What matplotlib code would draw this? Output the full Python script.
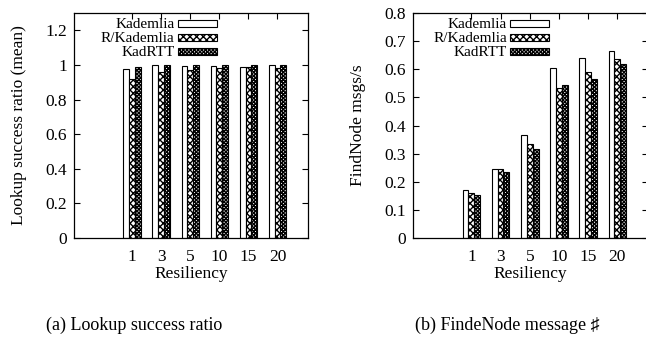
import numpy as np
import matplotlib
matplotlib.use("Agg")
import matplotlib.pyplot as plt
from matplotlib.patches import Rectangle

plt.rcParams['font.family'] = ['Liberation Serif', 'DejaVu Serif', 'DejaVu Sans']
plt.rcParams['hatch.linewidth'] = 1.0

# data
resiliency = ["1", "3", "5", "10", "15", "20"]
series = ["Kademlia", "R/Kademlia", "KadRTT"]

success_kademlia = [0.975, 0.998, 0.993, 0.995, 0.99, 0.997]
success_rkademlia = [0.917, 0.96, 0.969, 0.981, 0.987, 0.981]
success_kadrtt = [0.988, 1.0, 1.0, 1.0, 1.0, 1.0]

findnode_kademlia = [0.172, 0.245, 0.368, 0.606, 0.639, 0.665]
findnode_rkademlia = [0.160, 0.245, 0.336, 0.533, 0.589, 0.636]
findnode_kadrtt = [0.153, 0.236, 0.318, 0.545, 0.566, 0.620]

styles = [dict(facecolor="white", hatch=None),
          dict(facecolor="white", hatch="xxxxx"),
          dict(facecolor="white", hatch="xxxxxxxxx")]

fig = plt.figure(figsize=(6.46, 3.5), dpi=100)
W, H = 646, 350


def px_axes(left, right, top, bottom):
    return fig.add_axes([left / W, 1 - bottom / H, (right - left) / W, (bottom - top) / H])


def draw_panel(ax, data, ylim, yticks, yticklabels, ylabel, leg_x):
    pos = np.arange(len(resiliency)) + 2
    bw = 0.2
    for k, (vals, st) in enumerate(zip(data, styles)):
        ax.bar(pos + (k - 1) * bw, vals, bw, facecolor=st["facecolor"],
               hatch=st["hatch"], edgecolor="black", linewidth=0.8, zorder=2)
    ax.set_xlim(0, 8.05)
    ax.set_ylim(*ylim)
    ax.set_xticks(pos)
    ax.set_xticklabels(resiliency)
    ax.set_yticks(yticks)
    ax.set_yticklabels(yticklabels)
    ax.tick_params(direction="in", top=True, right=True, length=4, width=0.8,
                   labelsize=12.5, colors="black")
    ax.tick_params(axis="x", pad=8)
    ax.tick_params(axis="y", pad=5)
    for s in ax.spines.values():
        s.set_linewidth(0.9)
    ax.set_xlabel("Resiliency", fontsize=12.5, labelpad=1)
    ax.set_ylabel(ylabel, fontsize=12.5, labelpad=13)

    # key, gnuplot style: right-justified text then sample box
    ys = [0.948, 0.888, 0.826]
    for name, st, y in zip(series, styles, ys):
        ax.text(leg_x, y, name, transform=ax.transAxes, ha="right", va="center",
                fontsize=11)
        ax.add_patch(Rectangle((leg_x + 0.014, y - 0.012), 0.165, 0.032,
                               transform=ax.transAxes, facecolor=st["facecolor"],
                               hatch=st["hatch"], edgecolor="black",
                               linewidth=0.8, zorder=3))


ax1 = px_axes(74, 308, 13, 238)
draw_panel(ax1, [success_kademlia, success_rkademlia, success_kadrtt],
           (0, 1.3), [0, 0.2, 0.4, 0.6, 0.8, 1.0, 1.2],
           ["0", "0.2", "0.4", "0.6", "0.8", "1", "1.2"],
           "Lookup success ratio (mean)", 0.43)

ax2 = px_axes(413, 648, 13, 238)
draw_panel(ax2, [findnode_kademlia, findnode_rkademlia, findnode_kadrtt],
           (0, 0.8), np.arange(0, 0.81, 0.1),
           ["0", "0.1", "0.2", "0.3", "0.4", "0.5", "0.6", "0.7", "0.8"],
           "FindNode msgs/s", 0.40)

fig.text(134 / W, 1 - 325 / H, "(a) Lookup success ratio", ha="center",
         va="center", fontsize=13)
fig.text(507 / W, 1 - 325 / H, "(b) FindeNode message \u266f", ha="center",
         va="center", fontsize=13)

fig.savefig("out.png", dpi=100)
